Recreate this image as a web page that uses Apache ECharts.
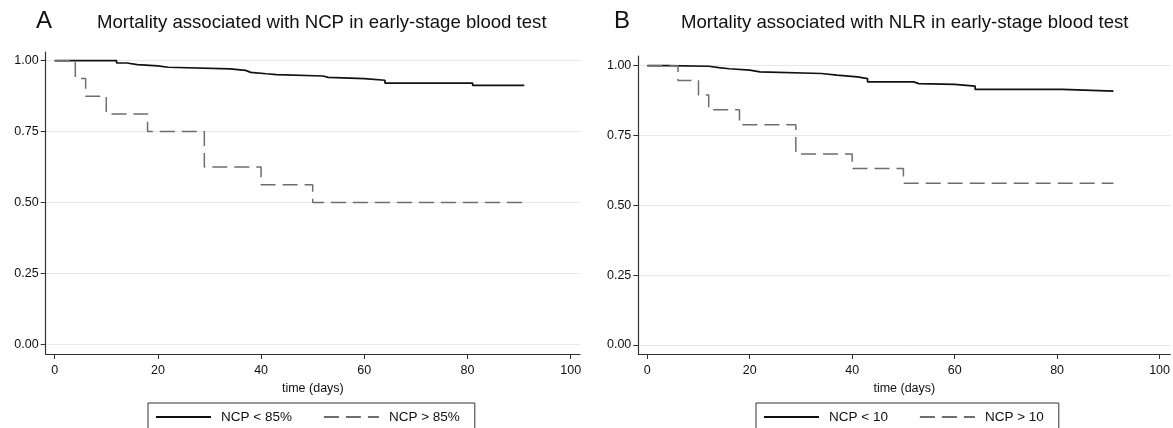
<!DOCTYPE html>
<html>
<head>
<meta charset="utf-8">
<script src="https://cdn.jsdelivr.net/npm/echarts@6/dist/echarts.min.js"></script>
<style>
  html, body { margin: 0; padding: 0; background: #fff; }
  .km_chart { width: 1173px; height: 428px; }
</style>
</head>
<body>
<div class="km_chart"></div>
<script>
// tick labels
var xTicks = [0, 20, 40, 60, 80, 100];
var yTicks = [0, 0.25, 0.5, 0.75, 1];

// panel A : NCP
var timeA_low  = [0, 12, 14, 16, 20, 22, 34, 37, 38, 41, 43, 52, 53, 60, 64, 81, 91];
var survA_low  = [1, 0.992, 0.986, 0.982, 0.977, 0.971, 0.966, 0.959, 0.954, 0.951, 0.946, 0.941, 0.937, 0.931, 0.921, 0.913, 0.913];
var timeA_high = [0, 4, 6, 10, 18, 29, 40, 50, 91];
var survA_high = [1, 0.9375, 0.875, 0.8125, 0.75, 0.625, 0.5625, 0.5, 0.5];

// panel B : NLR
var timeB_low  = [0, 4, 12, 14, 16, 20, 22, 34, 37, 41, 43, 52, 53, 60, 64, 81, 91];
var survB_low  = [1, 0.998, 0.993, 0.989, 0.984, 0.978, 0.972, 0.966, 0.960, 0.954, 0.942, 0.936, 0.933, 0.927, 0.915, 0.909, 0.909];
var timeB_high = [0, 6, 10, 12, 18, 29, 40, 50, 91];
var survB_high = [1, 0.947, 0.895, 0.842, 0.789, 0.684, 0.632, 0.579, 0.579];

var namesA = ['NCP < 85%', 'NCP > 85%'];
var namesB = ['NCP < 10', 'NCP > 10'];

function zip(t, s) {
  return t.map(function (v, i) { return [v, s[i]]; });
}

var font = 'Liberation Sans, Arial, Helvetica, sans-serif';
var axisColor = '#333';

function xAxisOf(idx, min, max) {
  return {
    type: 'value', gridIndex: idx, min: min, max: max,
    name: 'time (days)', nameLocation: 'middle', nameGap: 26,
    nameTextStyle: { fontFamily: font, fontSize: 12.5, color: '#111' },
    axisLine: { onZero: false, lineStyle: { color: axisColor, width: 1.2 } },
    axisTick: { customValues: xTicks, length: 5, lineStyle: { color: axisColor } },
    axisLabel: { customValues: xTicks, margin: 10, fontFamily: font, fontSize: 12.5, color: '#111' },
    splitLine: { show: false }
  };
}

function yAxisOf(idx, min, max) {
  return {
    type: 'value', gridIndex: idx, min: min, max: max,
    axisLine: { show: true, onZero: false, lineStyle: { color: axisColor, width: 1.2 } },
    axisTick: { show: true, customValues: yTicks, length: 5, lineStyle: { color: axisColor } },
    axisLabel: {
      customValues: yTicks, margin: 7, fontFamily: font, fontSize: 12.5, color: '#111',
      formatter: function (v) { return v.toFixed(2); }
    },
    splitLine: { show: true, lineStyle: { color: '#e8e8e8', width: 1 } }
  };
}

function kmLine(name, data, idx, dashed) {
  return {
    name: name, type: 'line', step: 'end',
    xAxisIndex: idx, yAxisIndex: idx,
    symbol: 'none', showSymbol: false, silent: true,
    data: data,
    color: dashed ? '#6e6e6e' : '#111',
    lineStyle: dashed
      ? { color: '#6e6e6e', width: 1.5, type: [15, 7] }
      : { color: '#111', width: 1.7 }
  };
}

function legendOf(left, names) {
  return {
    left: left, top: 403, orient: 'horizontal',
    data: names,
    itemWidth: 55, itemHeight: 14, itemGap: 31,
    padding: [7, 15, 12, 7],
    borderColor: '#333', borderWidth: 1,
    // hide the circle that line series put in the legend
    itemStyle: { color: 'rgba(0,0,0,0)', borderColor: 'rgba(0,0,0,0)', borderWidth: 0, opacity: 0 },
    textStyle: { fontFamily: font, fontSize: 13.5, color: '#111', padding: [0, 0, 0, 5] },
    selectedMode: false
  };
}

var chart = echarts.init(document.querySelector('.km_chart'));

var titleStyle = { fontFamily: font, fontSize: 18.6, fontWeight: 'normal', color: '#111' };
var letterStyle = { fontFamily: font, fontSize: 24, fontWeight: 'normal', color: '#111' };

var option = {
  animation: false,
  backgroundColor: '#fff',
  title: [
    { text: 'A', left: 36, top: 9, padding: 0, textStyle: letterStyle },
    { text: 'Mortality associated with NCP in early-stage blood test', left: 97, top: 13, padding: 0, textStyle: titleStyle },
    { text: 'B', left: 614, top: 9, padding: 0, textStyle: letterStyle },
    { text: 'Mortality associated with NLR in early-stage blood test', left: 681, top: 13, padding: 0, textStyle: titleStyle }
  ],
  legend: [legendOf(148, namesA), legendOf(756, namesB)],
  grid: [
    { left: 45.7, top: 52, width: 534.3, height: 302 },
    { left: 638.3, top: 56, width: 534.7, height: 298 }
  ],
  xAxis: [xAxisOf(0, -1.74, 101.8), xAxisOf(1, -1.75, 102.1)],
  yAxis: [yAxisOf(0, -0.0342, 1.0307), yAxisOf(1, -0.0322, 1.0347)],
  series: [
    kmLine(namesA[0], zip(timeA_low, survA_low), 0, false),
    kmLine(namesA[1], zip(timeA_high, survA_high), 0, true),
    kmLine(namesB[0], zip(timeB_low, survB_low), 1, false),
    kmLine(namesB[1], zip(timeB_high, survB_high), 1, true)
  ]
};

chart.setOption(option);
</script>
</body>
</html>
